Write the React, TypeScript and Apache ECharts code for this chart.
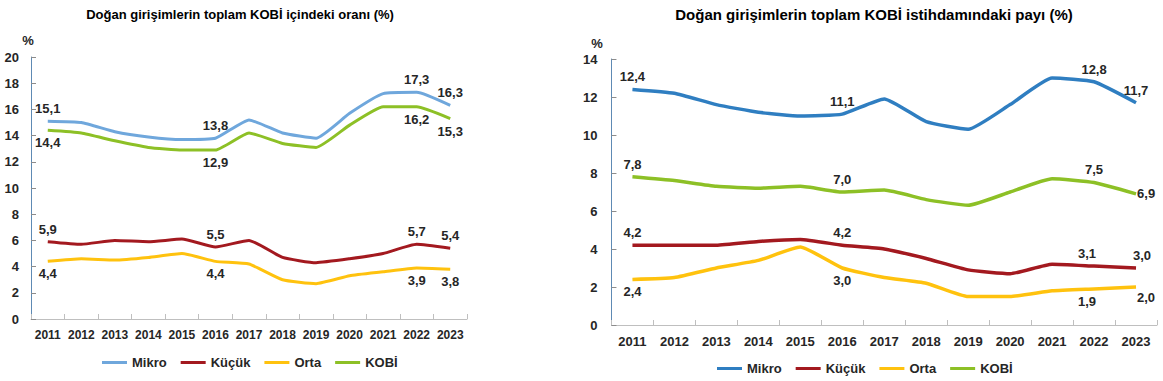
import React, { useEffect, useRef } from "react";
import * as echarts from "echarts";

const years = ["2011", "2012", "2013", "2014", "2015", "2016", "2017", "2018", "2019", "2020", "2021", "2022", "2023"];

// Left chart: share of newborn enterprises in total SMEs (%)
const leftMikro = [15.1, 15.0, 14.3, 13.9, 13.7, 13.8, 15.2, 14.2, 13.8, 15.7, 17.2, 17.3, 16.3];
const leftKucuk = [5.9, 5.7, 6.0, 5.9, 6.1, 5.5, 6.0, 4.7, 4.3, 4.6, 5.0, 5.7, 5.4];
const leftOrta = [4.4, 4.6, 4.5, 4.7, 5.0, 4.4, 4.2, 3.0, 2.7, 3.3, 3.6, 3.9, 3.8];
const leftKobi = [14.4, 14.2, 13.6, 13.1, 12.9, 12.9, 14.2, 13.4, 13.1, 14.8, 16.2, 16.2, 15.3];

// Right chart: share of newborn enterprises in total SME employment (%)
const rightMikro = [12.4, 12.2, 11.6, 11.2, 11.0, 11.1, 11.9, 10.7, 10.3, 11.6, 13.0, 12.8, 11.7];
const rightKucuk = [4.2, 4.2, 4.2, 4.4, 4.5, 4.2, 4.0, 3.5, 2.9, 2.7, 3.2, 3.1, 3.0];
const rightOrta = [2.4, 2.5, 3.0, 3.4, 4.1, 3.0, 2.5, 2.2, 1.5, 1.5, 1.8, 1.9, 2.0];
const rightKobi = [7.8, 7.6, 7.3, 7.2, 7.3, 7.0, 7.1, 6.6, 6.3, 7.0, 7.7, 7.5, 6.9];

const seriesNames = ["Mikro", "Küçük", "Orta", "KOBİ"];
const labeledIndexes = [0, 5, 11, 12];

const leftTitle = "Doğan girişimlerin toplam KOBİ içindeki oranı (%)";
const rightTitle = "Doğan girişimlerin toplam KOBİ istihdamındaki payı (%)";
const unitLabel = "%";

const FONT = "'Liberation Sans', Arial, sans-serif";
const TEXT = "#262626";
const fmt = (v: number) => v.toFixed(1).replace(".", ",");

function lineSeries(
  name: string,
  values: number[],
  color: string,
  width: number,
  position: string,
  overrides: Record<number, any> = {}
) {
  return {
    type: "line",
    name,
    symbol: "circle",
    symbolSize: 0.1,
    smooth: 0.15,
    lineStyle: { color, width },
    itemStyle: { color },
    label: {
      position,
      distance: 6,
      fontFamily: FONT,
      fontWeight: "bold",
      fontSize: 13,
      color: TEXT,
      formatter: (p: any) => fmt(p.value),
    },
    data: values.map((v, i) => ({
      value: v,
      label: labeledIndexes.includes(i) ? { show: true, ...(overrides[i] || {}) } : { show: false },
    })),
  };
}

function baseOption(cfg: any) {
  return {
    animation: false,
    grid: cfg.grid,
    graphic: [
      {
        type: "text",
        x: cfg.titleX,
        y: 14,
        style: {
          text: cfg.title,
          textAlign: "center",
          textVerticalAlign: "middle",
          align: "center",
          verticalAlign: "middle",
          font: `bold ${cfg.titleSize}px ${FONT}`,
          fill: "#000",
        },
      },
      {
        type: "text",
        x: cfg.pctX,
        y: cfg.pctY,
        style: {
          text: unitLabel,
          textAlign: "center",
          textVerticalAlign: "middle",
          align: "center",
          verticalAlign: "middle",
          font: `bold 13px ${FONT}`,
          fill: TEXT,
        },
      },
    ],
    legend: {
      data: seriesNames,
      left: cfg.legendLeft,
      top: cfg.legendTop,
      padding: 0,
      icon: "rect",
      itemWidth: 25,
      itemHeight: 3,
      itemGap: cfg.legendGap,
      textStyle: { fontFamily: FONT, fontWeight: "bold", fontSize: 13, color: TEXT },
    },
    xAxis: {
      type: "category",
      data: years,
      boundaryGap: true,
      axisLine: { lineStyle: { color: "#BFBFBF", width: 1 } },
      axisTick: { show: true, inside: true, length: 5, lineStyle: { color: "#BFBFBF" } },
      axisLabel: {
        interval: 0,
        margin: 10,
        fontFamily: FONT,
        fontWeight: "bold",
        fontSize: cfg.xFont,
        color: TEXT,
      },
      splitLine: { show: false },
    },
    yAxis: {
      type: "value",
      min: 0,
      max: cfg.yMax,
      interval: 2,
      axisLine: { show: true, lineStyle: { color: "#5E8AB4", width: 1 } },
      axisTick: { show: true, inside: true, length: 5, lineStyle: { color: "#8C8C8C" } },
      axisLabel: {
        margin: cfg.yMargin,
        fontFamily: FONT,
        fontWeight: "bold",
        fontSize: 13,
        color: TEXT,
      },
      splitLine: { show: false },
    },
    series: cfg.series,
  };
}

const leftOption = baseOption({
  grid: { left: 31, top: 57, width: 436, height: 262 },
  title: leftTitle,
  titleX: 240,
  titleSize: 13,
  pctX: 28,
  pctY: 40,
  legendLeft: 102,
  legendTop: 356,
  legendGap: 14,
  xFont: 12,
  yMax: 20,
  yMargin: 12,
  series: [
    lineSeries(seriesNames[0], leftMikro, "#6FA7DC", 3, "top"),
    lineSeries(seriesNames[1], leftKucuk, "#A3191F", 3, "top"),
    lineSeries(seriesNames[2], leftOrta, "#FFC20E", 3, "bottom"),
    lineSeries(seriesNames[3], leftKobi, "#8DC026", 3, "bottom"),
  ],
});

const rightOption = baseOption({
  grid: { left: 26, top: 59, width: 551, height: 266 },
  title: rightTitle,
  titleX: 294,
  titleSize: 15,
  pctX: 17,
  pctY: 43,
  legendLeft: 137,
  legendTop: 362,
  legendGap: 14,
  xFont: 13,
  yMax: 14,
  yMargin: 14,
  series: [
    lineSeries(seriesNames[0], rightMikro, "#2F7EC1", 3.5, "top"),
    lineSeries(seriesNames[1], rightKucuk, "#A3191F", 3.5, "top", {
      11: { offset: [-7, 0] },
      12: { offset: [6, 0] },
    }),
    lineSeries(seriesNames[2], rightOrta, "#FFC20E", 3.5, "bottom", {
      11: { offset: [-7, 0] },
      12: { offset: [10, -2] },
    }),
    lineSeries(seriesNames[3], rightKobi, "#8DC026", 3.5, "top", {
      12: { position: "right", distance: 1 },
    }),
  ],
});

function Chart({ option, left, width }: { option: any; left: number; width: number }) {
  const ref = useRef<HTMLDivElement>(null);
  useEffect(() => {
    if (!ref.current) return;
    const chart = echarts.init(ref.current, undefined, { renderer: "svg" });
    chart.setOption(option);
    return () => chart.dispose();
  }, [option]);
  return <div ref={ref} style={{ position: "absolute", left, top: 0, width, height: 381 }} />;
}

export default function App() {
  return (
    <div style={{ position: "absolute", left: 0, top: 0, width: 1163, height: 381, background: "#fff" }}>
      <Chart option={leftOption} left={0} width={580} />
      <Chart option={rightOption} left={580} width={583} />
    </div>
  );
}
